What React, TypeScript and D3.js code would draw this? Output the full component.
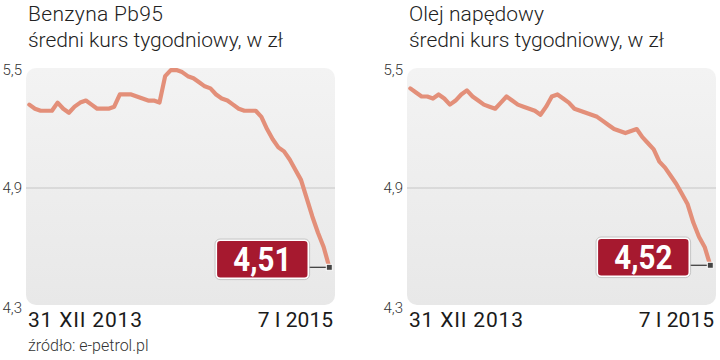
import React from 'react';
import * as d3 from 'd3';

// Weekly average prices, 31 XII 2013 – 7 I 2015
const pb95 = [5.31, 5.29, 5.28, 5.28, 5.28, 5.32, 5.29, 5.27, 5.30, 5.32,
  5.33, 5.31, 5.29, 5.29, 5.29, 5.30, 5.36, 5.36, 5.36, 5.35,
  5.34, 5.33, 5.33, 5.32, 5.45, 5.48, 5.48, 5.47, 5.45, 5.44,
  5.42, 5.40, 5.39, 5.36, 5.34, 5.33, 5.31, 5.29, 5.28, 5.28,
  5.28, 5.25, 5.19, 5.14, 5.10, 5.08, 5.04, 4.99, 4.94, 4.85,
  4.76, 4.68, 4.61, 4.51];
const diesel = [5.39, 5.37, 5.35, 5.35, 5.34, 5.36, 5.34, 5.31, 5.33, 5.36,
  5.38, 5.35, 5.33, 5.31, 5.30, 5.29, 5.32, 5.35, 5.33, 5.31,
  5.30, 5.29, 5.28, 5.26, 5.30, 5.35, 5.36, 5.34, 5.32, 5.29,
  5.28, 5.27, 5.26, 5.25, 5.23, 5.21, 5.19, 5.18, 5.17, 5.18,
  5.19, 5.15, 5.12, 5.09, 5.03, 5.00, 4.96, 4.92, 4.87, 4.82,
  4.73, 4.66, 4.61, 4.52];
const yTicks = [5.5, 4.9, 4.3];
const yTickLabels = ['5,5', '4,9', '4,3'];
const xLabels = ['31 XII 2013', '7 I 2015'];
const titles = ['Benzyna Pb95', 'Olej napędowy'];
const subtitle = 'średni kurs tygodniowy, w zł';
const lastLabels = ['4,51', '4,52'];
const source = 'źródło: e-petrol.pl';

const FONT = 'Roboto, "Noto Sans", sans-serif';
const LINE = '#E38F79';
const BOX = '#A6192F';

const y = d3.scaleLinear().domain([4.3, 5.5]).range([310, 66]);

function Panel({ ox, data, title, last, idx }: { ox: number; data: number[]; title: string; last: string; idx: number }) {
  const x = d3.scaleLinear().domain([0, data.length - 1]).range([ox + 29.3, ox + 329.3]);
  const line = d3.line<number>().x((_, i) => x(i)).y(d => y(d)).curve(d3.curveLinear);
  const bgX = ox + 26;
  const bgW = 309;
  const mx = x(data.length - 1);
  const my = y(data[data.length - 1]);
  const boxR = mx - 21;
  const boxW = 92;
  const boxH = 38;
  const boxT = my - 27;
  return (
    <g>
      <text x={ox + 28} y={21} fontFamily={FONT} fontWeight={300} fontSize={21} fill="#222" textLength={135}>{title}</text>
      <text x={ox + 28} y={47} fontFamily={FONT} fontWeight={300} fontSize={21} fill="#222" textLength={255}>{subtitle}</text>
      <rect x={bgX} y={68} width={bgW} height={237} rx={10} ry={10} fill={`url(#bg${idx})`} />
      <line x1={bgX} x2={bgX + bgW} y1={y(4.9)} y2={y(4.9)} stroke="#c6c6c6" strokeWidth={1.2} />
      {yTicks.map((t, i) => (
        <text key={t} x={ox + 22} y={Math.min(Math.max(y(t), 70), 308)} textAnchor="end" dominantBaseline="central"
          fontFamily={FONT} fontWeight={300} fontSize={15} fill="#333">{yTickLabels[i]}</text>
      ))}
      <path d={line(data) || ''} fill="none" stroke={LINE} strokeWidth={4.2} strokeLinejoin="round" strokeLinecap="round" />
      <line x1={boxR} x2={mx} y1={my} y2={my} stroke="#333" strokeWidth={1.2} />
      <rect x={boxR - boxW} y={boxT} width={boxW} height={boxH} rx={4} ry={4} fill={BOX} stroke="#fff" strokeWidth={1.6} />
      <rect x={boxR - boxW - 1.3} y={boxT - 1.3} width={boxW + 2.6} height={boxH + 2.6} rx={5} ry={5} fill="none" stroke="#bdbdbd" strokeWidth={0.8} />
      <text x={boxR - boxW / 2} y={boxT + boxH / 2 + 12} textAnchor="middle" fontFamily={FONT} fontWeight={700} fontSize={33}
        fill="#fff" textLength={58} lengthAdjust="spacingAndGlyphs">{last}</text>
      <rect x={mx - 3} y={my - 3} width={6} height={6} fill="#444" stroke="#fff" strokeWidth={1} />
      <text x={ox + 28} y={327} fontFamily={FONT} fontSize={21} fill="#1a1a1a" textLength={114}>{xLabels[0]}</text>
      <text x={ox + 333} y={327} textAnchor="end" fontFamily={FONT} fontSize={21} fill="#1a1a1a">{xLabels[1]}</text>
    </g>
  );
}

export default function App() {
  return (
    <svg width={720} height={360} style={{ position: 'absolute', left: 0, top: 0, background: '#fff' }}>
      <defs>
        {[0, 1].map(i => (
          <linearGradient key={i} id={`bg${i}`} x1="0" y1="0" x2="0" y2="1">
            <stop offset="0" stopColor="#f3f3f3" />
            <stop offset="1" stopColor="#e8e8e8" />
          </linearGradient>
        ))}
      </defs>
      <Panel ox={0} data={pb95} title={titles[0]} last={lastLabels[0]} idx={0} />
      <Panel ox={381} data={diesel} title={titles[1]} last={lastLabels[1]} idx={1} />
      <text x={28} y={351} fontFamily={FONT} fontWeight={300} fontSize={16} fill="#333">{source}</text>
    </svg>
  );
}
